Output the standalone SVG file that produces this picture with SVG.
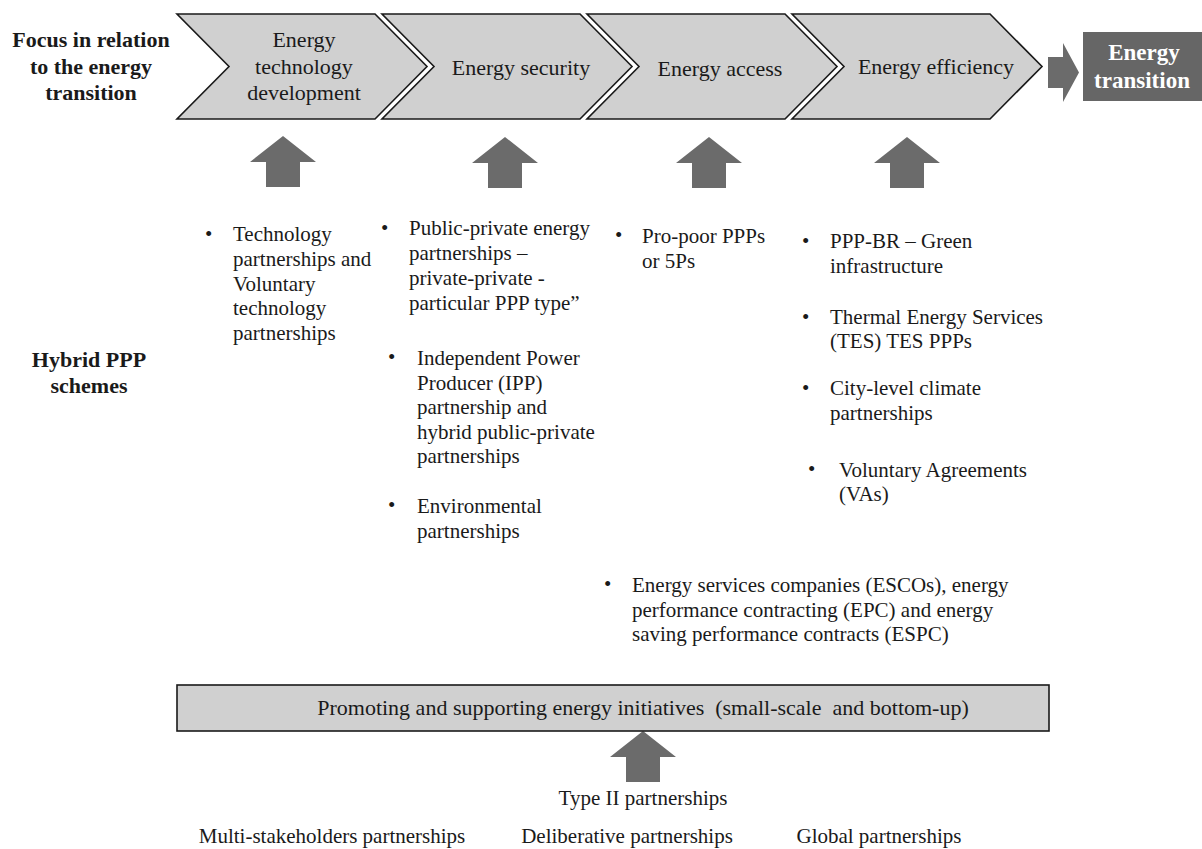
<svg xmlns="http://www.w3.org/2000/svg" width="1202" height="849" viewBox="0 0 1202 849">
<defs>
<style>
text{font-family:"Liberation Serif","Times New Roman",serif;fill:#1a1a1a}
.hd{font-size:22px;font-weight:bold;text-anchor:middle}
.ch{font-size:22px;text-anchor:middle}
.bt{font-size:21px}
.bl{font-size:21px}
.chev{fill:#d0d0d0;stroke:#1a1a1a;stroke-width:1.6;stroke-linejoin:miter}
.arr{fill:#6b6b6b}
.box{fill:#d0d0d0;stroke:#1a1a1a;stroke-width:1.6}
.dark{fill:#666666}
.wt{fill:#ffffff;font-size:23px;font-weight:bold;text-anchor:middle}
.bot{font-size:21px;text-anchor:middle}
</style>
<path id="uparrow" d="M0,0 L33,26 L17,26 L17,51 L-17,51 L-17,26 L-33,26 Z"/>
</defs>

<g id="label-focus">
<text class="hd" x="91" y="47">Focus in relation</text>
<text class="hd" x="91" y="74">to the energy</text>
<text class="hd" x="91" y="100">transition</text>
</g>

<g id="label-hybrid">
<text class="hd" x="89" y="367">Hybrid PPP</text>
<text class="hd" x="89" y="393">schemes</text>
</g>

<g id="chev-tech">
<polygon class="chev" points="177,14 375,14 427,66.5 375,119 177,119 229,66.5"/>
<text class="ch" x="304" y="47">Energy</text>
<text class="ch" x="304" y="74">technology</text>
<text class="ch" x="304" y="100">development</text>
</g>
<g id="chev-security">
<polygon class="chev" points="382,14 580,14 632,66.5 580,119 382,119 434,66.5"/>
<text class="ch" x="521" y="75">Energy security</text>
</g>
<g id="chev-access">
<polygon class="chev" points="587,14 785,14 837,66.5 785,119 587,119 639,66.5"/>
<text class="ch" x="720" y="76">Energy access</text>
</g>
<g id="chev-efficiency">
<polygon class="chev" points="792,14 990,14 1042,66.5 990,119 792,119 844,66.5"/>
<text class="ch" x="936" y="74">Energy efficiency</text>
</g>

<g id="transition">
<rect class="dark" x="1083" y="32" width="120" height="69"/>
<text class="wt" x="1144" y="60">Energy</text>
<text class="wt" x="1142" y="88">transition</text>
</g>

<g id="connectors">
<polygon class="arr" points="1048,57 1063,57 1063,43 1079,72.5 1063,102 1063,88 1048,88"/>
<use href="#uparrow" class="arr" x="283" y="136"/>
<use href="#uparrow" class="arr" x="505" y="137"/>
<use href="#uparrow" class="arr" x="709" y="137"/>
<use href="#uparrow" class="arr" x="907" y="137"/>
<use href="#uparrow" class="arr" x="643" y="731"/>
</g>

<g id="col-tech">
<text class="bl" x="205" y="241">•</text>
<text class="bt" x="233" y="241">Technology</text>
<text class="bt" x="233" y="266">partnerships and</text>
<text class="bt" x="233" y="291">Voluntary</text>
<text class="bt" x="233" y="315">technology</text>
<text class="bt" x="233" y="340">partnerships</text>
</g>

<g id="col-security">
<text class="bl" x="381" y="235">•</text>
<text class="bt" x="409" y="235">Public-private energy</text>
<text class="bt" x="409" y="260">partnerships –</text>
<text class="bt" x="409" y="285">private-private -</text>
<text class="bt" x="409" y="310">particular PPP type”</text>
<text class="bl" x="388" y="364">•</text>
<text class="bt" x="417" y="365">Independent Power</text>
<text class="bt" x="417" y="390">Producer (IPP)</text>
<text class="bt" x="417" y="414">partnership and</text>
<text class="bt" x="417" y="439">hybrid public-private</text>
<text class="bt" x="417" y="463">partnerships</text>
<text class="bl" x="388" y="512">•</text>
<text class="bt" x="417" y="513">Environmental</text>
<text class="bt" x="417" y="538">partnerships</text>
</g>

<g id="col-access">
<text class="bl" x="615" y="242">•</text>
<text class="bt" x="642" y="243">Pro-poor PPPs</text>
<text class="bt" x="642" y="268">or 5Ps</text>
</g>

<g id="col-efficiency">
<text class="bl" x="802" y="248">•</text>
<text class="bt" x="830" y="248">PPP-BR – Green</text>
<text class="bt" x="830" y="273">infrastructure</text>
<text class="bl" x="802" y="324">•</text>
<text class="bt" x="830" y="324">Thermal Energy Services</text>
<text class="bt" x="830" y="348">(TES) TES PPPs</text>
<text class="bl" x="802" y="395">•</text>
<text class="bt" x="830" y="395">City-level climate</text>
<text class="bt" x="830" y="420">partnerships</text>
<text class="bl" x="808" y="476">•</text>
<text class="bt" x="839" y="477">Voluntary Agreements</text>
<text class="bt" x="839" y="501">(VAs)</text>
</g>

<g id="escos">
<text class="bl" x="604" y="591">•</text>
<text class="bt" x="632" y="592">Energy services companies (ESCOs), energy</text>
<text class="bt" x="632" y="617">performance contracting (EPC) and energy</text>
<text class="bt" x="632" y="641">saving performance contracts (ESPC)</text>
</g>

<g id="initiatives">
<rect class="box" x="177" y="685" width="872" height="46"/>
<text class="ch" x="643" y="715" style="white-space:pre">Promoting and supporting energy initiatives  (small-scale  and bottom-up)</text>
</g>

<g id="type2">
<text class="bot" x="643" y="805">Type II partnerships</text>
</g>
<g id="multi"><text class="bot" x="332" y="843">Multi-stakeholders partnerships</text></g>
<g id="deliberative"><text class="bot" x="627" y="843">Deliberative partnerships</text></g>
<g id="global"><text class="bot" x="879" y="843">Global partnerships</text></g>
</svg>
